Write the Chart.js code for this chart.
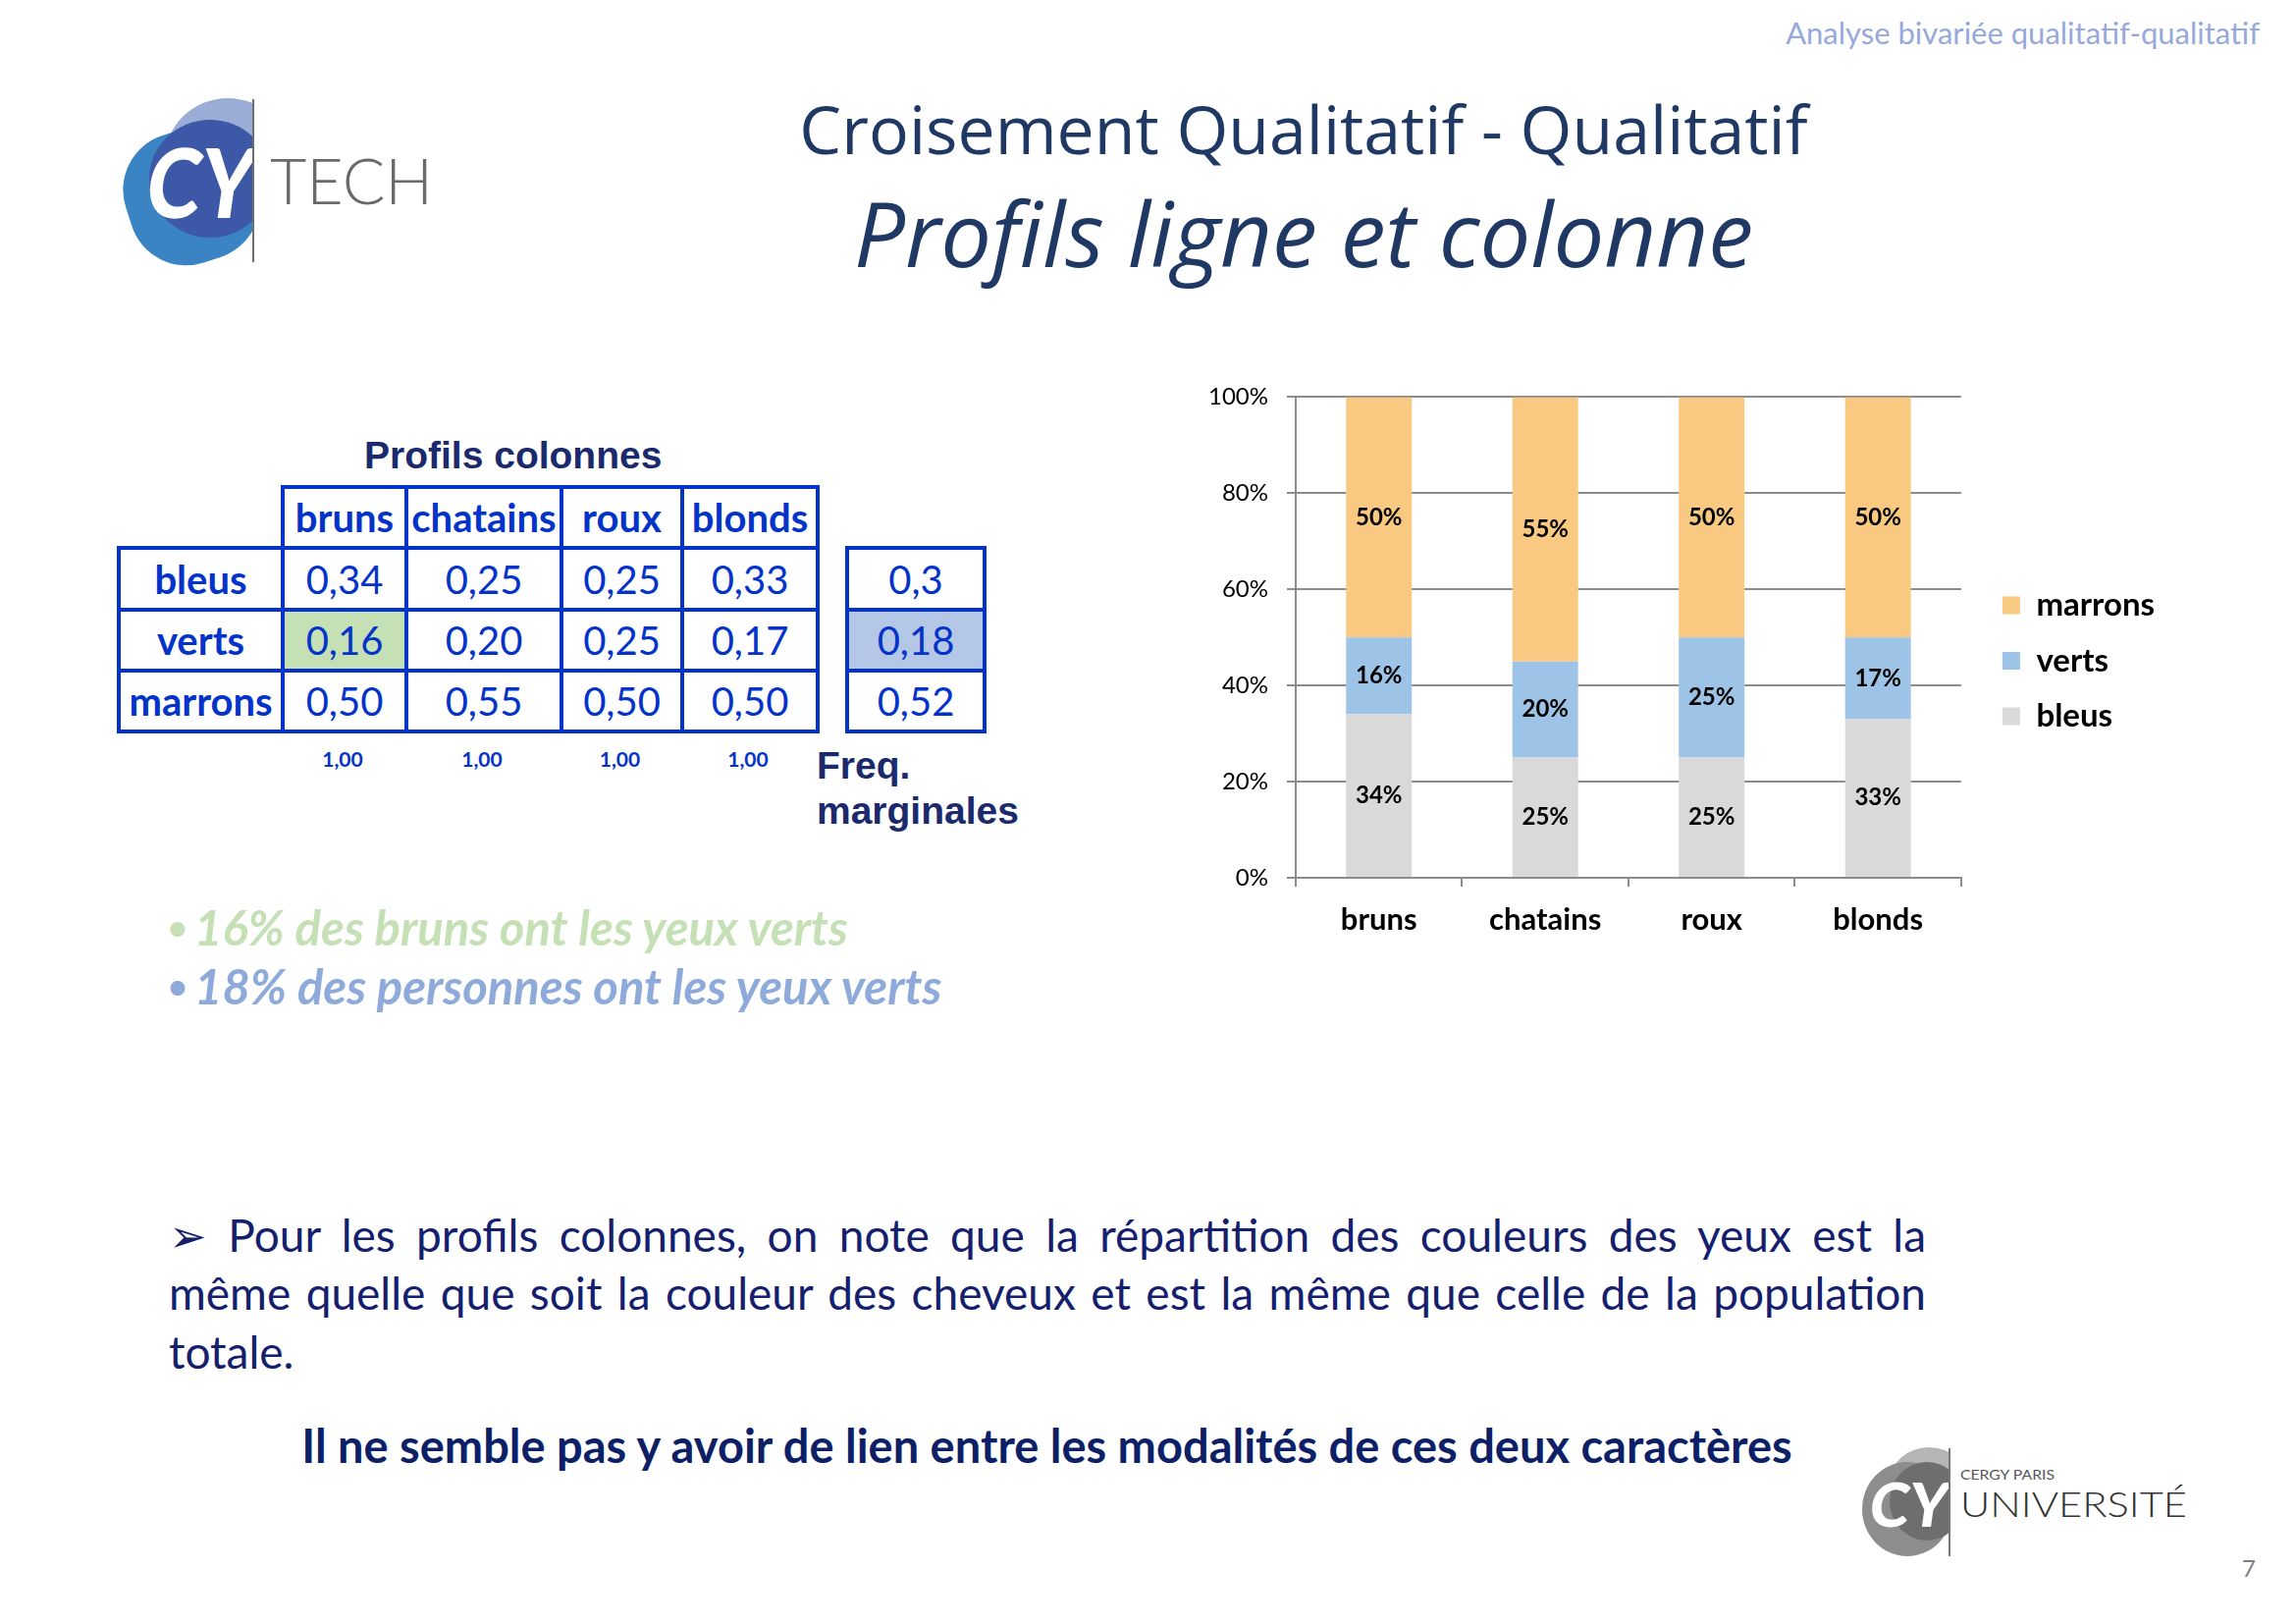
<!DOCTYPE html>
<html lang="fr">
<head>
<meta charset="utf-8">
<title>Profils ligne et colonne</title>
<script src="https://cdn.jsdelivr.net/npm/chart.js@4.4.1/dist/chart.umd.min.js"></script>
<style>
  html, body { margin: 0; padding: 0; background: #fff; }
  body { width: 2339px; height: 1653px; position: relative; overflow: hidden; font-family: Lato, 'Open Sans', sans-serif; }
  .abs { position: absolute; white-space: nowrap; }
  #header { right: 37px; top: 16px; font-size: 31px; line-height: 34px; color: #97a9dc; }
  #title { left: 628px; width: 1400px; top: 91px; text-align: center; font-family: 'Open Sans', sans-serif; font-size: 68px; line-height: 80px; color: #1f3864; }
  #subtitle { left: 628px; width: 1400px; top: 183px; text-align: center; font-family: 'Open Sans', sans-serif; font-style: italic; font-size: 92px; line-height: 108px; color: #1f3864; }
  .navy-arial { font-family: 'Liberation Sans', Arial, sans-serif; font-weight: bold; color: #1a2a6c; font-size: 39px; line-height: 46px; }
  table.grid { position: absolute; border-collapse: collapse; table-layout: fixed; color: #0433c9; font-size: 40px; }
  table.grid td { border: 4px solid #0433c9; text-align: center; padding: 0; overflow: hidden; white-space: nowrap; }
  table.grid td.head { font-weight: bold; }
  table.grid td.empty { border: none; }
  .tot { top: 758px; font-size: 21px; line-height: 30px; font-weight: bold; color: #0433c9; text-align: center; }
  .bullet { left: 198px; font-size: 49px; line-height: 56px; font-weight: bold; font-style: italic; }
  .bullet .dot { position: absolute; left: -27px; font-style: normal; font-size: 34px; }
  .para { left: 172px; width: 1790px; font-size: 46px; line-height: 56px; color: #14206e; text-align: justify; text-align-last: justify; white-space: nowrap; }
  #concl { left: 259px; width: 1615px; top: 1444px; font-size: 47px; line-height: 56px; font-weight: bold; color: #0d1f66; text-align: center; }
  #pageno { left: 2284px; top: 1582px; font-size: 24px; line-height: 30px; color: #808080; }
  #chartBox { position: absolute; left: 1000px; top: 371px; }
</style>
</head>
<body>
<div id="header" class="abs">Analyse bivariée qualitatif-qualitatif</div>
<div id="title" class="abs">Croisement Qualitatif - Qualitatif</div>
<div id="subtitle" class="abs">Profils ligne et colonne</div>

<svg class="abs" style="left:110px;top:90px" width="350" height="190" viewBox="0 0 350 190">
  <defs><clipPath id="cut1"><rect x="0" y="0" width="148" height="190"/></clipPath></defs>
  <g clip-path="url(#cut1)">
    <ellipse cx="122" cy="72" rx="64" ry="62" fill="#9aadd6"/>
    <rect x="18" y="42" width="134" height="136" rx="58" fill="#3b84c4" transform="rotate(-18 85 110)"/>
    <ellipse cx="104" cy="92" rx="62" ry="60" fill="#3e58a8"/>
    <text x="38" y="132" font-family="Lato" font-weight="900" font-size="98" fill="#fff" textLength="110" lengthAdjust="spacingAndGlyphs" transform="skewX(-8) translate(16 0)">CY</text>
  </g>
  <line x1="148" y1="11" x2="148" y2="177" stroke="#6d6d6d" stroke-width="2"/>
  <text x="165" y="118" font-family="Lato" font-weight="300" font-size="66" fill="#6a6a6a" textLength="166" lengthAdjust="spacingAndGlyphs">TECH</text>
</svg>

<div class="abs navy-arial" style="left:371px;top:441px">Profils colonnes</div>
<table id="profils" class="grid" style="left:119px;top:494px"></table>
<table id="margin" class="grid" style="left:861px;top:556px"></table>
<div id="totals"></div>
<div class="abs navy-arial" style="left:832px;top:757px">Freq.<br>marginales</div>

<div class="abs bullet" style="top:916px;color:#c5e0b4"><span class="dot">•</span>16% des bruns ont les yeux verts</div>
<div class="abs bullet" style="top:976px;color:#8eaadb"><span class="dot">•</span>18% des personnes ont les yeux verts</div>

<div class="abs para" style="top:1230px">&#10146; Pour les profils colonnes, on note que la répartition des couleurs des yeux est la</div>
<div class="abs para" style="top:1289px">même quelle que soit la couleur des cheveux et est la même que celle de la population</div>
<div class="abs para" style="top:1349px;text-align:left;text-align-last:left">totale.</div>
<div id="concl" class="abs">Il ne semble pas y avoir de lien entre les modalités de ces deux caractères</div>

<svg class="abs" style="left:1885px;top:1465px" width="360" height="130" viewBox="0 0 360 130">
  <defs><clipPath id="cut2"><rect x="0" y="0" width="101" height="130"/></clipPath></defs>
  <g clip-path="url(#cut2)">
    <ellipse cx="80" cy="45" rx="40" ry="36" fill="#b5b5b5"/>
    <ellipse cx="58" cy="72" rx="46" ry="48" fill="#8d8d8d"/>
    <ellipse cx="78" cy="64" rx="38" ry="40" fill="#6e6e6e"/>
    <text x="20" y="90" font-family="Lato" font-weight="900" font-size="62" fill="#fff" textLength="80" lengthAdjust="spacingAndGlyphs" transform="skewX(-8) translate(10 0)">CY</text>
  </g>
  <line x1="101" y1="10" x2="101" y2="120" stroke="#777" stroke-width="2"/>
  <text x="112" y="42" font-family="Lato" font-size="14" fill="#555" textLength="96" lengthAdjust="spacingAndGlyphs">CERGY PARIS</text>
  <text x="112" y="80" font-family="Lato" font-weight="300" font-size="35" fill="#333" textLength="231" lengthAdjust="spacingAndGlyphs">UNIVERSITÉ</text>
</svg>
<div id="pageno" class="abs">7</div>

<div id="chartBox"><canvas id="c_profils" width="1205" height="605"></canvas></div>

<script>
// column profiles (%)
const hairColors = ['bruns', 'chatains', 'roux', 'blonds'];
const eyeColors = ['bleus', 'verts', 'marrons'];
const bleus = [34, 25, 25, 33];
const verts = [16, 20, 25, 17];
const marrons = [50, 55, 50, 50];
const marginal = ['0,3', '0,18', '0,52'];
const colTotals = ['1,00', '1,00', '1,00', '1,00'];
const yTicks = [0, 20, 40, 60, 80, 100];
const seriesColors = ['#d9d9d9', '#9dc3e6', '#f9c982'];

const colWidths = [167, 126, 158, 123, 138];
const rowHeights = [62, 63, 62, 62];
const fmt = v => (v / 100).toFixed(2).replace('.', ',');

// left table: profils colonnes
function buildTables() {
  const rows = [bleus, verts, marrons];
  const t = document.getElementById('profils');
  let html = '<colgroup>' + colWidths.map(w => `<col style="width:${w}px">`).join('') + '</colgroup>';
  html += `<tr style="height:${rowHeights[0]}px"><td class="empty"></td>` +
    hairColors.map(h => `<td class="head">${h}</td>`).join('') + '</tr>';
  rows.forEach((r, i) => {
    html += `<tr style="height:${rowHeights[i + 1]}px"><td class="head">${eyeColors[i]}</td>` +
      r.map((v, j) => {
        const bg = i === 1 && j === 0 ? ' style="background:#c5e0b4"' : '';
        return `<td${bg}>${fmt(v)}</td>`;
      }).join('') + '</tr>';
  });
  t.innerHTML = html;

  const m = document.getElementById('margin');
  m.innerHTML = '<colgroup><col style="width:140px"></colgroup>' +
    marginal.map((v, i) => {
      const bg = i === 1 ? ';background:#b4c7e7' : '';
      return `<tr style="height:${rowHeights[i + 1]}px"><td style="${bg}">${v}</td></tr>`;
    }).join('');

  let x = 119 + colWidths[0];
  document.getElementById('totals').innerHTML = colTotals.map((v, i) => {
    const w = colWidths[i + 1];
    const s = `<div class="abs tot" style="left:${x}px;width:${w}px">${v}</div>`;
    x += w;
    return s;
  }).join('');
}
buildTables();

// value labels in the middle of each segment
const segmentLabels = {
  id: 'segmentLabels',
  afterDatasetsDraw(chart) {
    const ctx = chart.ctx;
    ctx.save();
    ctx.font = 'bold 24px Lato';
    ctx.fillStyle = '#000';
    ctx.textAlign = 'center';
    ctx.textBaseline = 'middle';
    chart.data.datasets.forEach((ds, i) => {
      chart.getDatasetMeta(i).data.forEach((bar, j) => {
        ctx.fillText(ds.data[j] + '%', bar.x, (bar.y + bar.base) / 2);
      });
    });
    ctx.restore();
  },
};

const gridGrey = '#8c8c8c';
new Chart(document.getElementById('c_profils'), {
  type: 'bar',
  data: {
    labels: hairColors,
    datasets: [bleus, verts, marrons].map((d, i) => ({
      label: eyeColors[i],
      data: d,
      backgroundColor: seriesColors[i],
      borderWidth: 0,
      categoryPercentage: 1,
      barPercentage: 0.395,
    })),
  },
  options: {
    responsive: false,
    animation: false,
    layout: { padding: { top: 9, bottom: 10, left: 0, right: 0 } },
    plugins: {
      tooltip: { enabled: false },
      legend: {
        position: 'right',
        reverse: true,
        labels: {
          boxWidth: 18,
          boxHeight: 18,
          padding: 23.5,
          color: '#000',
          font: { family: 'Lato', size: 33, weight: 'bold' },
        },
      },
    },
    scales: {
      x: {
        stacked: true,
        grid: { offset: true, drawOnChartArea: false, tickLength: 9, color: gridGrey, lineWidth: 2 },
        border: { color: gridGrey, width: 2 },
        ticks: { color: '#000', padding: 15, font: { family: 'Lato', size: 31, weight: 'bold' } },
        afterFit(s) { s.height = 72; },
      },
      y: {
        stacked: true,
        min: yTicks[0],
        max: yTicks[yTicks.length - 1],
        afterBuildTicks(s) { s.ticks = yTicks.map(v => ({ value: v })); },
        grid: { color: gridGrey, lineWidth: 2, tickLength: 9 },
        border: { color: gridGrey, width: 2 },
        ticks: { color: '#000', padding: 19, font: { family: 'Lato', size: 24 }, callback: v => v + '%' },
        afterFit(s) { s.width = 320; },
      },
      // empty axis, only keeps the gap between the bars and the legend
      y2: {
        position: 'right',
        min: 0,
        max: 100,
        grid: { display: false },
        border: { display: false },
        ticks: { display: false },
        afterFit(s) { s.width = 18.5; },
      },
    },
  },
  plugins: [segmentLabels],
});
</script>
</body>
</html>
